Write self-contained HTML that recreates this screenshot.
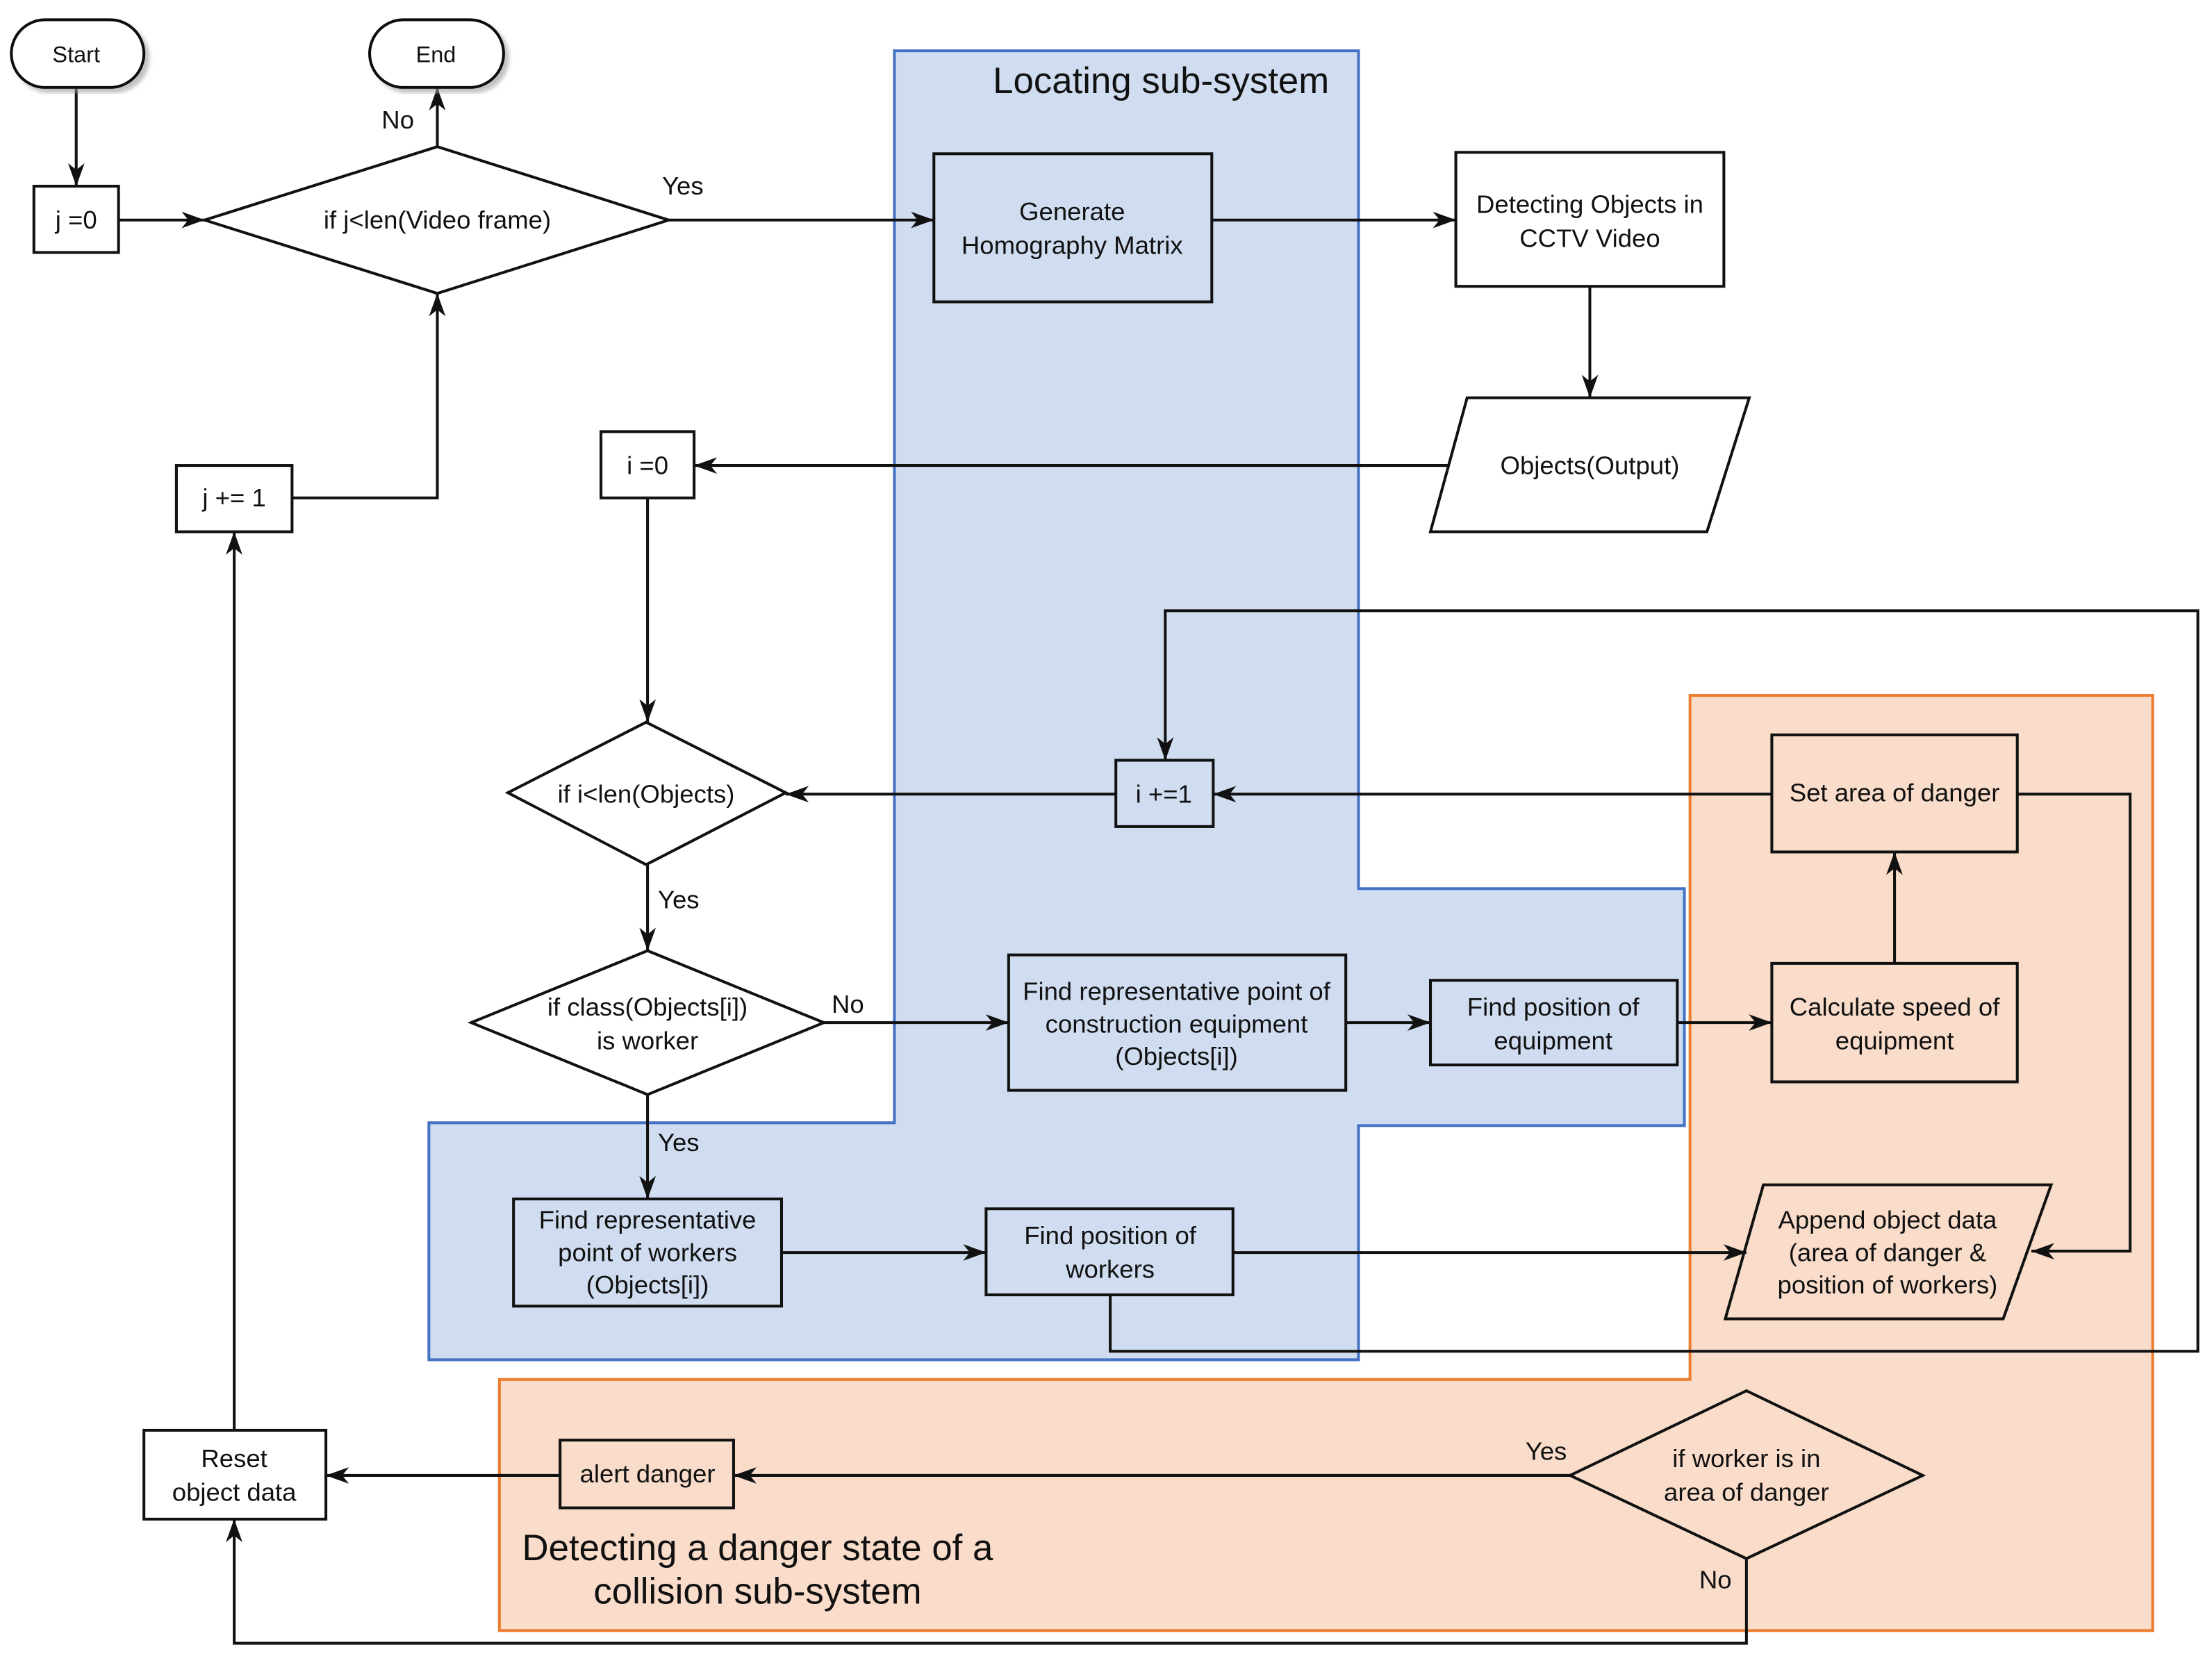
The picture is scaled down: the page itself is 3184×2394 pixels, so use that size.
<!DOCTYPE html>
<html><head><meta charset="utf-8"><style>html,body{margin:0;padding:0;background:#fff}svg{display:block}</style></head><body>
<svg width="3184" height="2394" viewBox="0 0 1568 1179" xmlns="http://www.w3.org/2000/svg" font-family="Liberation Sans, sans-serif" font-size="18" fill="#111">
<defs>
<marker id="a" viewBox="0 0 10 10" refX="9" refY="5" markerWidth="9" markerHeight="9" orient="auto" markerUnits="userSpaceOnUse" style="overflow:visible">
<path d="M-4,0 L10,5 L-4,10 L0,5 z" fill="#111" transform="scale(1.3) translate(-3,-1.2)"/></marker>
<filter id="sh"><feDropShadow dx="3" dy="3" stdDeviation="1.5" flood-color="#999" flood-opacity="0.6"/></filter>
</defs>
<polygon points="634,36 963,36 963,630 1194,630 1194,798 963,798 963,964 304,964 304,796 634,796" fill="#d0ddf0" stroke="#4472c4" stroke-width="2"/>
<polygon points="1198,493 1526,493 1526,1156 354,1156 354,978 1198,978" fill="#f9dcca" stroke="#ed7d31" stroke-width="2"/>
<text x="823" y="66" font-size="26" text-anchor="middle">Locating sub-system</text>
<text x="537" y="1106" font-size="26" text-anchor="middle">Detecting a danger state of a</text>
<text x="537" y="1137" font-size="26" text-anchor="middle">collision sub-system</text>
<g fill="none" stroke="#111" stroke-width="2" marker-end="url(#a)">
<path d="M54,62 V132"/><path d="M84,156 H145"/><path d="M310,104 V62"/><path d="M474,156 H662"/>
<path d="M859,156 H1032"/><path d="M1127,203 V282"/><path d="M1030,330 H492"/><path d="M459,353 V512"/>
<path d="M791,563 H557"/><path d="M1256,563 H860"/><path d="M459,613 V674"/><path d="M584,725 H715"/>
<path d="M954,725 H1014"/><path d="M1189,725 H1256"/><path d="M1343,683 V604"/><path d="M1430,563 H1510 V887 H1440"/>
<path d="M459,776 V850"/><path d="M554,888 H699"/><path d="M874,888 H1238"/>
<path d="M787,918 V958 H1558 V433 H826 V539"/><path d="M1113,1046 H520"/><path d="M397,1046 H231"/>
<path d="M1238,1105 V1165 H166 V1077"/><path d="M166,1014 V377"/><path d="M207,353 H310 V208"/>
</g>
<g stroke="#111" stroke-width="2" fill="#fff">
<rect x="8" y="14" width="94" height="48" rx="24" filter="url(#sh)"/>
<rect x="262" y="14" width="95" height="48" rx="24" filter="url(#sh)"/>
<rect x="24" y="132" width="60" height="47"/>
<polygon points="145,156 310,104 474,156 310,208"/>
<rect x="125" y="330" width="82" height="47"/>
<rect x="1032" y="108" width="190" height="95"/>
<polygon points="1040,282 1240,282 1210,377 1014,377"/>
<rect x="426" y="306" width="66" height="47"/>
<rect x="102" y="1014" width="129" height="63"/>
</g>
<g stroke="#111" stroke-width="2" fill="none">
<rect x="662" y="109" width="197" height="105"/>
<rect x="791" y="539" width="69" height="47"/>
<polygon points="360,562 458,512 557,562 458,613"/>
<polygon points="334,725 459,674 584,725 459,776"/>
<rect x="715" y="677" width="239" height="96"/>
<rect x="1014" y="695" width="175" height="60"/>
<rect x="1256" y="521" width="174" height="83"/>
<rect x="1256" y="683" width="174" height="84"/>
<polygon points="1250,840 1454,840 1420,935 1223,935"/>
<rect x="364" y="850" width="190" height="76"/>
<rect x="699" y="857" width="175" height="61"/>
<rect x="397" y="1021" width="123" height="48"/>
<polygon points="1113,1046 1238,986 1363,1046 1238,1105"/>
</g>
<g text-anchor="middle">
<text x="54" y="44" font-size="16">Start</text><text x="309" y="44" font-size="16">End</text>
<text x="54" y="162">j =0</text><text x="310" y="162">if j&lt;len(Video frame)</text>
<text x="166" y="359">j += 1</text><text x="282" y="91">No</text><text x="484" y="138">Yes</text>
<text x="760" y="156">Generate</text><text x="760" y="180">Homography Matrix</text>
<text x="1127" y="151">Detecting Objects in</text><text x="1127" y="175">CCTV Video</text>
<text x="1127" y="336">Objects(Output)</text><text x="459" y="336">i =0</text>
<text x="825" y="569">i +=1</text><text x="458" y="569">if i&lt;len(Objects)</text>
<text x="481" y="644">Yes</text><text x="459" y="720">if class(Objects[i])</text><text x="459" y="744">is worker</text>
<text x="601" y="718">No</text><text x="481" y="816">Yes</text>
<text x="834" y="709">Find representative point of</text><text x="834" y="732">construction equipment</text><text x="834" y="755">(Objects[i])</text>
<text x="1101" y="720">Find position of</text><text x="1101" y="744">equipment</text>
<text x="1343" y="568">Set area of danger</text>
<text x="1343" y="720">Calculate speed of</text><text x="1343" y="744">equipment</text>
<text x="1338" y="871">Append object data</text><text x="1338" y="894">(area of danger &amp;</text><text x="1338" y="917">position of workers)</text>
<text x="459" y="871">Find representative</text><text x="459" y="894">point of workers</text><text x="459" y="917">(Objects[i])</text>
<text x="787" y="882">Find position of</text><text x="787" y="906">workers</text>
<text x="459" y="1051">alert danger</text><text x="166" y="1040">Reset</text><text x="166" y="1064">object data</text>
<text x="1238" y="1040">if worker is in</text><text x="1238" y="1064">area of danger</text>
<text x="1096" y="1035">Yes</text><text x="1216" y="1126">No</text>
</g>
</svg>
</body></html>
